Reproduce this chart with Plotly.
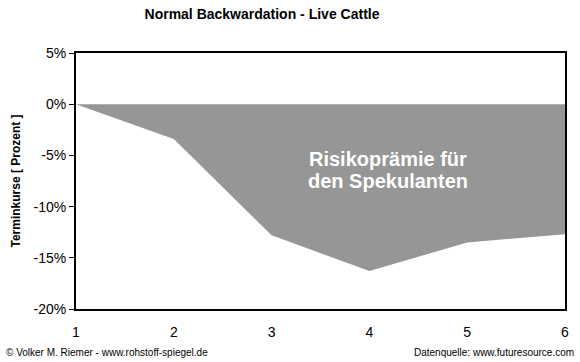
import plotly.graph_objects as go

months = [1, 2, 3, 4, 5, 6]
termin = [0.0, -3.4, -12.8, -16.3, -13.5, -12.7]
y_ticks = [5, 0, -5, -10, -15, -20]
y_labels = ["5%", "0%", "-5%", "-10%", "-15%", "-20%"]

fig = go.Figure()
fig.add_trace(go.Scatter(
    x=months, y=termin, mode="lines", fill="tozeroy",
    fillcolor="#969696", line=dict(color="#969696", width=0),
    hoverinfo="skip", showlegend=False,
))

fig.update_layout(
    width=580, height=362,
    margin=dict(l=76, r=15, t=53, b=53),
    paper_bgcolor="white", plot_bgcolor="white",
    font=dict(family="Arial, Liberation Sans, sans-serif", color="black"),
    showlegend=False,
    title=dict(text="<b>Normal Backwardation - Live Cattle</b>",
               x=262/580, xanchor="center", y=1-14/362, yanchor="middle",
               font=dict(size=14, color="black")),
)
fig.update_xaxes(
    range=[1, 6], tickvals=months, ticktext=[str(m) for m in months],
    showgrid=False, zeroline=False, showline=True, linecolor="black",
    linewidth=2, mirror=True, ticks="", ticklabelstandoff=9,
    tickfont=dict(size=14),
)
fig.update_yaxes(
    range=[-20, 5], tickvals=y_ticks, ticktext=y_labels,
    showgrid=False, zeroline=False, showline=True, linecolor="black",
    linewidth=2, mirror=True, ticks="outside", ticklen=5, tickwidth=1,
    tickcolor="black", tickfont=dict(size=14),
    title=dict(text="<b>Terminkurse [ Prozent ]</b>", font=dict(size=12),
               standoff=10),
)

fig.add_annotation(text="<b>Risikoprämie für</b>", xref="paper", yref="paper",
                   x=(388-76)/489, y=(309-159)/256.3, xanchor="center", yanchor="middle",
                   showarrow=False, font=dict(size=20, color="white"))
fig.add_annotation(text="<b>den Spekulanten</b>", xref="paper", yref="paper",
                   x=(388-76)/489, y=(309-181)/256.3, xanchor="center", yanchor="middle",
                   showarrow=False, font=dict(size=20, color="white"))

fig.add_annotation(text="© Volker M. Riemer - www.rohstoff-spiegel.de",
                   xref="paper", yref="paper", x=-72/489, y=-(353-309)/256.3,
                   xanchor="left", yanchor="middle", showarrow=False,
                   font=dict(size=10, color="black"))
fig.add_annotation(text="Datenquelle: www.futuresource.com",
                   xref="paper", yref="paper", x=(576-76)/489, y=-(353-309)/256.3,
                   xanchor="right", yanchor="middle", showarrow=False,
                   font=dict(size=10, color="black"))

fig.write_html("out.html", config={"displayModeBar": False},
               post_script="document.body.style.margin='0';document.body.style.overflow='hidden';")
